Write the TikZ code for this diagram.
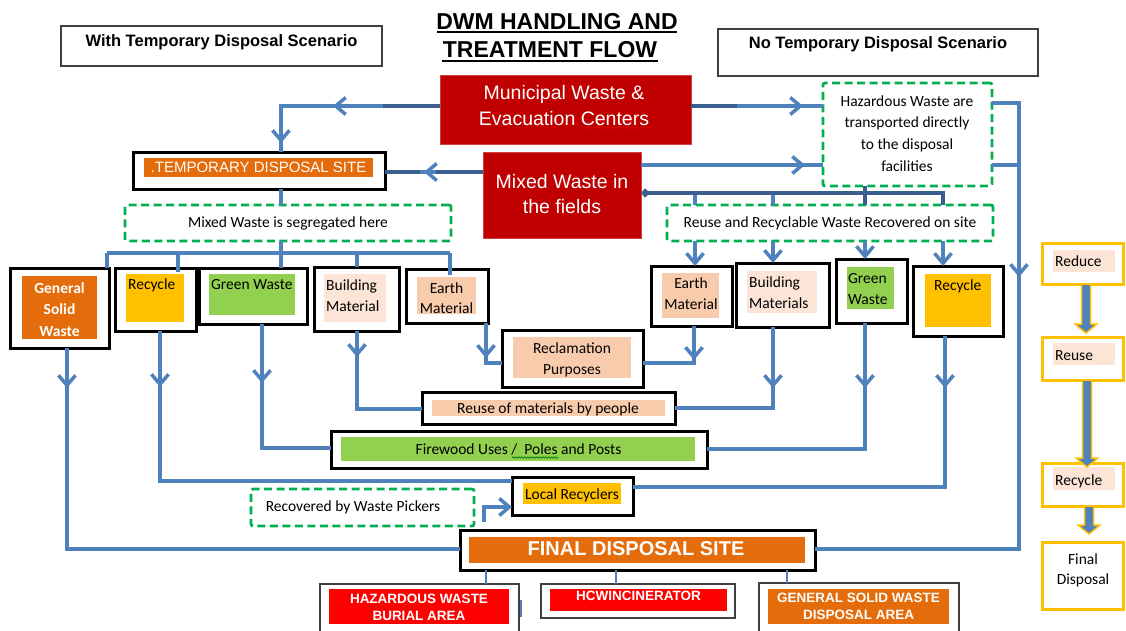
\documentclass[tikz,border=0pt]{standalone}
\usepackage{fontspec}
\setmainfont{Liberation Sans}
\newfontfamily\calfont{Carlito}
\usetikzlibrary{arrows.meta,decorations.markings,decorations.pathmorphing}

\definecolor{flowblue}{HTML}{4F81BD}
\definecolor{flowdark}{HTML}{3A5F8F}
\definecolor{boxred}{HTML}{C00000}
\definecolor{brightred}{HTML}{FF0000}
\definecolor{siteorange}{HTML}{E46C0A}
\definecolor{gold}{HTML}{FFC000}
\definecolor{leaf}{HTML}{92D050}
\definecolor{peach}{HTML}{F8CBAD}
\definecolor{blush}{HTML}{FCE4D6}
\definecolor{dashgreen}{HTML}{00B050}
\definecolor{framegray}{HTML}{404040}

% rectangle node given by its corner coordinates (x1,y1) (x2,y2)
\newcommand\rbox[6][]{\node[inner sep=0pt, outer sep=0pt, minimum width={#5-#3}, minimum height={#6-#4}, #1] (#2) at ({(#3+#5)/2},{(#4+#6)/2}) {};}
% one line of text placed by its baseline
\newcommand\txt[5][]{\node[inner sep=0pt, anchor=base, #1] (#2) at (#3,#4) {#5};}
% filled block arrow from node #1 down to node #2; #3 = tip lift above #2, #4 = horizontal offset
\newcommand\blkarrow[4]{%
  \draw[blockarrow] ([xshift=#4-4.5pt]#1.south) -- ([xshift=#4-4.5pt,yshift=#3+9pt]#2.north)
    -- ([xshift=#4-11pt,yshift=#3+9pt]#2.north) -- ([xshift=#4,yshift=#3]#2.north)
    -- ([xshift=#4+11pt,yshift=#3+9pt]#2.north) -- ([xshift=#4+4.5pt,yshift=#3+9pt]#2.north)
    -- ([xshift=#4+4.5pt]#1.south) -- cycle;}

\begin{document}
\begin{tikzpicture}[x=1pt,y=-1pt,
  blk/.style={draw=black, line width=3pt, fill=white},
  thin/.style={draw=framegray, line width=1.3pt, fill=white},
  dashbox/.style={draw=dashgreen, line width=2.8pt, dash pattern=on 8pt off 4.5pt, rounded corners=2pt, fill=white},
  redbox/.style={fill=boxred, draw=boxred!75!white, line width=0.8pt},
  goldbox/.style={draw=gold, line width=3pt, fill=white},
  fillbox/.style={fill=#1, draw=none},
  conn/.style={draw=flowblue, line width=3.5pt},
  connd/.style={draw=flowdark, line width=3.5pt},
  endar/.style={arrows={-Straight Barb[length=10pt,width=17pt]}},
  midar/.style={postaction={decorate,decoration={markings,
      mark=at position #1 with {\arrow{Straight Barb[length=10pt,width=17pt]}}}}},
  midarr/.style 2 args={postaction={decorate,decoration={markings,
      mark=at position #1 with {\arrow{Straight Barb[length=10pt,width=17pt]}},
      mark=at position #2 with {\arrow{Straight Barb[length=10pt,width=17pt]}}}}},
  blockarrow/.style={fill=flowblue, draw=gold, line width=1.5pt},
  cal/.style={font=\calfont\fontsize{15.5}{18}\selectfont},
  calw/.style={font=\calfont\bfseries\fontsize{15.5}{18}\selectfont, text=white},
  head/.style={font=\bfseries\fontsize{16.5}{20}\selectfont},
  ttl/.style={font=\bfseries\fontsize{23}{28}\selectfont},
  redtxt/.style={text=white, font=\fontsize{19.5}{24}\selectfont},
  caps/.style={text=white, font=\bfseries\fontsize{13.5}{16}\selectfont},
  squig/.style={line width=0.7pt, decorate, decoration={snake, amplitude=0.8pt, segment length=3pt}}
]
\useasboundingbox (0,0) rectangle (1126,630);

% ---------- headings ----------
\rbox[thin]{withS}{61}{26}{382}{66}
\txt[head]{withT}{221.5}{46}{With Temporary Disposal Scenario}
\rbox[thin]{noS}{718}{29}{1038}{76}
\txt[head]{noT}{878}{48}{No Temporary Disposal Scenario}
\txt[ttl]{ttlA}{557}{29}{DWM HANDLING AND}
\txt[ttl]{ttlB}{550}{57}{TREATMENT FLOW}
\draw[line width=1.6pt] (437,32) -- (677,32);
\draw[line width=1.6pt] (442,61) -- (658,61);

% ---------- sources ----------
\rbox[redbox]{mun}{440}{75}{691}{144}
\txt[redtxt]{munA}{564}{99}{Municipal Waste \&}
\txt[redtxt]{munB}{564}{125}{Evacuation Centers}
\draw[squig, red!85!black] (583,128) -- (651,128);
\rbox[redbox]{mix}{483}{152}{641}{238}
\txt[redtxt]{mixA}{562}{188}{Mixed Waste in}
\txt[redtxt]{mixB}{562}{213}{the fields}

% ---------- temporary site branch ----------
\rbox[blk]{tds}{133}{152}{385}{189}
\rbox[fillbox=siteorange]{tdsF}{144}{158}{373}{177}
\txt[text=white, font=\fontsize{15}{18}\selectfont]{tdsT}{258.5}{172}{.TEMPORARY DISPOSAL SITE}
\rbox[dashbox]{segL}{125}{205}{451}{241}
\txt[cal]{segT}{288}{227}{Mixed Waste is segregated here}

\rbox[blk]{gswL}{10}{268}{109}{348}
\rbox[fillbox=siteorange]{gswLF}{22}{276}{97}{339}
\txt[calw]{gswLa}{59.5}{293}{General}
\txt[calw]{gswLb}{59.5}{314}{Solid}
\txt[calw]{gswLc}{59.5}{336}{Waste}

\rbox[blk]{recL}{115}{268}{196}{331}
\rbox[fillbox=gold]{recLF}{126}{274}{184}{322}
\txt[cal, anchor=base west]{recLT}{128}{289}{Recycle}

\rbox[blk]{greenL}{199}{268}{307}{324}
\rbox[fillbox=leaf]{greenLF}{209}{274}{295}{315}
\txt[cal, anchor=base west]{greenLT}{211}{289}{Green Waste}

\rbox[blk]{bldL}{314}{267}{399}{331}
\rbox[fillbox=blush]{bldLF}{324}{274}{386}{322}
\txt[cal, anchor=base west]{bldLa}{326}{290}{Building}
\txt[cal, anchor=base west]{bldLb}{326}{311}{Material}

\rbox[blk]{earthL}{406}{269}{488}{323}
\rbox[fillbox=peach]{earthLF}{417}{277}{476}{314}
\txt[cal]{earthLa}{446.5}{293}{Earth}
\txt[cal]{earthLb}{446.5}{313}{Material}

% ---------- direct branch ----------
\rbox[dashbox]{haz}{823}{83}{992}{186}
\txt[cal]{hazA}{907}{106}{Hazardous Waste are}
\txt[cal]{hazB}{907}{127.5}{transported directly}
\txt[cal]{hazC}{907}{149.5}{to the disposal}
\txt[cal]{hazD}{907}{171}{facilities}
\rbox[dashbox]{reuseR}{667}{205}{993}{241}
\txt[cal]{reuseRT}{830}{227}{Reuse and Recyclable Waste Recovered on site}

\rbox[blk]{earthR}{651}{266}{732}{326}
\rbox[fillbox=peach]{earthRF}{662}{273}{719}{318}
\txt[cal]{earthRa}{691}{288}{Earth}
\txt[cal]{earthRb}{691}{309}{Material}

\rbox[blk]{bldR}{736}{263}{829}{327}
\rbox[fillbox=blush]{bldRF}{747}{271}{817}{313}
\txt[cal, anchor=base west]{bldRa}{749}{287}{Building}
\txt[cal, anchor=base west]{bldRb}{749}{308}{Materials}

\rbox[blk]{greenR}{836}{259}{907}{323}
\rbox[fillbox=leaf]{greenRF}{847}{267}{894}{309}
\txt[cal, anchor=base west]{greenRa}{848}{283}{Green}
\txt[cal, anchor=base west]{greenRb}{848}{304}{Waste}

\rbox[blk]{recR}{913}{266}{1003}{336}
\rbox[fillbox=gold]{recRF}{925}{274}{991}{327}
\txt[cal, anchor=base west]{recRT}{934}{290}{Recycle}

% ---------- outlets ----------
\rbox[blk]{recl}{502}{330}{643}{387}
\rbox[fillbox=peach]{reclF}{513}{337}{631}{378}
\txt[cal]{reclA}{572}{353}{Reclamation}
\txt[cal]{reclB}{572}{374}{Purposes}

\rbox[blk]{reuseP}{422}{392}{675}{424}
\rbox[fillbox=peach]{reusePF}{432}{400}{665}{416}
\txt[cal]{reusePT}{548}{413}{Reuse of materials by people}

\rbox[blk]{fire}{331}{431}{707}{468}
\rbox[fillbox=leaf]{fireF}{341}{437}{695}{461}
\txt[cal]{fireT}{518.5}{454}{Firewood Uses /\ \ Poles and Posts}
\draw[squig, green!50!black] (512,457.5) -- (558,457.5);

\rbox[blk]{locR}{512}{477}{633}{515}
\rbox[fillbox=gold]{locRF}{523}{483}{621}{504}
\txt[cal]{locRT}{572}{499}{Local Recyclers}

\rbox[dashbox]{pick}{251}{489}{474}{526}
\txt[cal]{pickT}{353}{511}{Recovered by Waste Pickers}

\rbox[blk]{fds}{460}{530}{815}{570}
\rbox[fillbox=siteorange]{fdsF}{469}{537}{805}{563}
\txt[text=white, font=\bfseries\fontsize{20}{24}\selectfont]{fdsT}{636}{555}{FINAL DISPOSAL SITE}

\rbox[thin]{hzb}{320}{584}{519}{645}
\rbox[fillbox=brightred]{hzbF}{329}{589}{509}{624}
\txt[caps]{hzbA}{419}{603}{HAZARDOUS WASTE}
\txt[caps]{hzbB}{419}{620}{BURIAL AREA}

\rbox[thin]{hcw}{541}{584}{735}{618}
\rbox[fillbox=brightred]{hcwF}{550}{589}{727}{611}
\txt[caps]{hcwT}{638.5}{600}{HCWINCINERATOR}

\rbox[thin]{gsd}{759}{583}{959}{645}
\rbox[fillbox=siteorange]{gsdF}{768}{589}{949}{624}
\txt[caps]{gsdA}{858.5}{602}{GENERAL SOLID WASTE}
\txt[caps]{gsdB}{858.5}{619}{DISPOSAL AREA}

% ---------- waste hierarchy column ----------
\rbox[goldbox]{rrReduce}{1042}{243}{1123}{284}
\rbox[fillbox=blush]{rrReduceF}{1053}{250}{1115}{272}
\txt[cal, anchor=base west]{rrReduceT}{1055}{266}{Reduce}
\rbox[goldbox]{rrReuse}{1042}{337}{1123}{380}
\rbox[fillbox=blush]{rrReuseF}{1053}{343}{1115}{365}
\txt[cal, anchor=base west]{rrReuseT}{1055}{360}{Reuse}
\rbox[goldbox]{rrRecycle}{1042}{463}{1123}{506}
\rbox[fillbox=blush]{rrRecycleF}{1053}{467}{1115}{490}
\txt[cal, anchor=base west]{rrRecycleT}{1055}{485}{Recycle}
\rbox[goldbox]{rrFinal}{1042}{542}{1123}{609}
\txt[cal]{rrFinalA}{1083}{564}{Final}
\txt[cal]{rrFinalB}{1083}{584}{Disposal}

% ---------- connectors: sources ----------
\coordinate (b1) at (281,106);
\draw[conn, midarr={107pt}{196pt}] (mun.west |- b1) -- (b1) -- (tds.north -| b1);
\draw[connd] (mun.west |- b1) -- ++(-57,0);
\coordinate (b2) at (430,172);
\draw[conn, midar=59pt] (mix.west |- b2) -- (tds.east |- b2);
\draw[connd] (mix.west |- b2) -- ++(-47,0);
\draw[connd] (tds.east |- b2) -- ++(35,0);
\coordinate (b3) at (760,106);
\draw[conn, midar=112pt] (mun.east |- b3) -- (haz.west |- b3);
\draw[connd] (mun.east |- b3) -- ++(46,0);
\coordinate (b4) at (760,165);
\draw[conn, midar=164pt] (mix.east |- b4) -- (haz.west |- b4);

% ---------- connectors: direct branch ----------
\coordinate (d1) at (695,193);
\coordinate (d2) at (773,193);
\coordinate (d3) at (865,193);
\coordinate (d4) at (943,193);
\draw[conn] (d1) -- (reuseR.north -| d1);
\draw[conn] (d2) -- (reuseR.north -| d2);
\draw[connd] (haz.south -| d3) -- (reuseR.north -| d3);
\draw[connd, arrows={Straight Barb[length=3pt,width=7pt]-}] (mix.east |- d1) -- (d4) -- (reuseR.north -| d4);
\draw[conn, endar] (reuseR.south -| d1) -- (earthR.north -| d1);
\draw[conn, endar] (reuseR.south -| d2) -- (bldR.north -| d2);
\draw[conn, endar] (reuseR.south -| d3) -- (greenR.north -| d3);
\draw[conn, endar] (reuseR.south -| d4) -- (recR.north -| d4);

\coordinate (h1) at (1019,103);
\coordinate (h2) at (1019,549);
\coordinate (h3) at (1019,165);
\draw[conn, midar=201pt] (haz.east |- h1) -- (h1) -- (h2) -- (fds.east |- h2);
\draw[conn] (haz.east |- h3) -- (h3);

% ---------- connectors: temporary site branch ----------
\coordinate (s1) at (281,253);
\draw[conn] (tds.south -| s1) -- (segL.north -| s1);
\draw[conn] (segL.south -| s1) -- (greenL.north -| s1);
\coordinate (L1) at (107,253);
\coordinate (L2) at (178,253);
\coordinate (L4) at (357,253);
\coordinate (L5) at (450,253);
\draw[conn] (L1) -- (L5);
\draw[conn] (L1) -- (gswL.north -| L1);
\draw[conn] (L2) -- ([yshift=-4pt]recL.north -| L2);
\draw[conn] (L4) -- (bldL.north -| L4);
\draw[conn] (L5) -- ([yshift=-6pt]earthL.north -| L5);

% ---------- connectors: outlets ----------
\coordinate (g1) at (67,549);
\draw[conn, midar=40pt] (gswL.south -| g1) -- (g1) -- (fds.west |- g1);
\coordinate (g2) at (160,481);
\draw[conn, midar=56pt] (recL.south -| g2) -- (g2) -- (locR.west |- g2);
\coordinate (g3) at (262,448);
\draw[conn, midar=59pt] (greenL.south -| g3) -- (g3) -- (fire.west |- g3);
\coordinate (g4) at (357,409);
\draw[conn, midar=26pt] (bldL.south -| g4) -- (g4) -- (reuseP.west |- g4);
\coordinate (g5) at (486,363);
\draw[conn, midar=35pt] (earthL.south -| g5) -- (g5) -- (recl.west |- g5);

\coordinate (r1) at (694,363);
\draw[conn, midar=34pt] (earthR.south -| r1) -- (r1) -- (recl.east |- r1);
\coordinate (r2) at (773,408);
\draw[conn, midar=61pt] (bldR.south -| r2) -- (r2) -- (reuseP.east |- r2);
\coordinate (r3) at (865,449);
\draw[conn, midar=65pt] (greenR.south -| r3) -- (r3) -- (fire.east |- r3);
\coordinate (r4) at (945,487);
\draw[conn, midar=52pt] (recR.south -| r4) -- (r4) -- (locR.east |- r4);

\coordinate (pk) at (484,522);
\coordinate (pq) at (484,507);
\draw[conn, endar] (pk) -- (pq) -- (locR.west |- pq);

% ---------- final disposal feeders ----------
\coordinate (k1) at (486,577);
\coordinate (k2) at (616,577);
\coordinate (k3) at (787,577);
\draw[conn, line width=2.5pt] (fds.south -| k1) -- (hzb.north -| k1);
\draw[conn, line width=2.5pt] (fds.south -| k2) -- (hcw.north -| k2);
\draw[conn, line width=2.5pt] (fds.south -| k3) -- (gsd.north -| k3);
\coordinate (st1) at (521,600);
\coordinate (st2) at (521,617);
\draw[conn, line width=2.5pt] (st1) -- (st2);

% ---------- hierarchy arrows ----------
\blkarrow{rrReduce}{rrReuse}{4pt}{3.5pt}
\blkarrow{rrReuse}{rrRecycle}{-4pt}{4.5pt}
\blkarrow{rrRecycle}{rrFinal}{8pt}{6.5pt}
\end{tikzpicture}
\end{document}
